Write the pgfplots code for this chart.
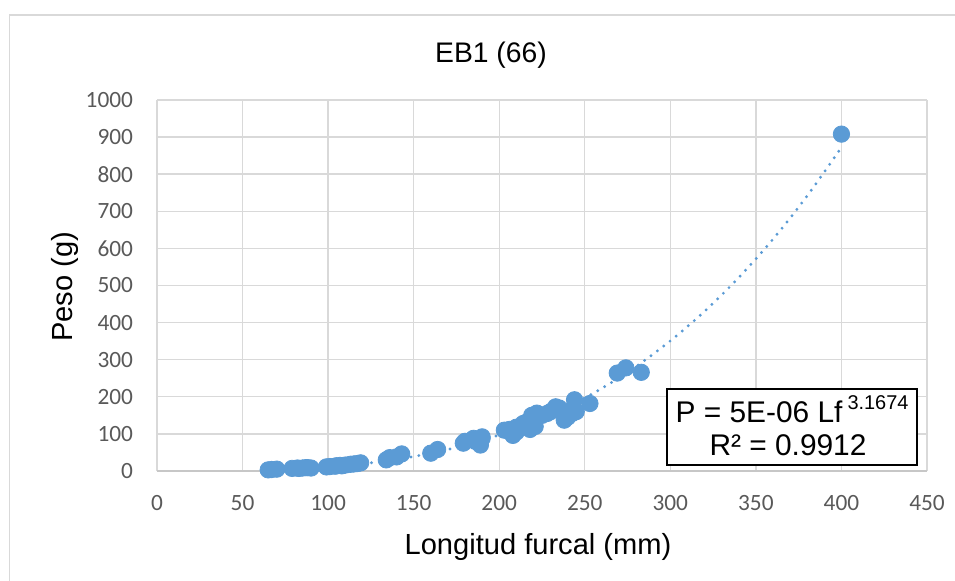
\documentclass[border=0pt]{standalone}
\usepackage{pgfplots}
\pgfplotsset{compat=1.18}
\usepackage{fontspec}
\setmainfont{Liberation Sans}
\newfontfamily\calibri{Carlito}
\definecolor{xlblue}{HTML}{5B9BD5}
\definecolor{xlgrid}{HTML}{D9D9D9}
\definecolor{xltick}{HTML}{595959}

\begin{document}
\begin{tikzpicture}
\path[use as bounding box] (0,0) rectangle (477.5bp,290.5bp);
\draw[xlgrid, line width=0.6bp] (4.75bp,0) -- (4.75bp,283bp) -- (477.5bp,283bp);
\begin{axis}[
  at={(78.5bp,55bp)}, anchor=south west,
  scale only axis,
  width=385bp, height=185.5bp,
  xmin=0, xmax=450, ymin=0, ymax=1000,
  xtick={0,50,...,450},
  ytick={0,100,...,1000},
  axis line style={draw=none},
  axis x line*=bottom,
  axis y line*=left,
  x axis line style={draw=xlgrid!80!gray, line width=0.7bp},
  major tick length=0pt,
  grid=major,
  grid style={xlgrid, line width=0.7bp},
  tick label style={font=\calibri\fontsize{11.7}{13}\selectfont, text=xltick},
  /pgf/number format/assume math mode=true,
  /pgf/number format/1000 sep={},
  yticklabel style={xshift=-8.5bp},
  xticklabel style={yshift=-8.5bp},
  clip=false
]
% trend line (power fit)
\addplot[xlblue, line width=1.6bp, dash pattern=on 0pt off 4pt, line cap=round, smooth]
  coordinates {(65,2.76) (80,5.33) (100,10.81) (120,19.26) (140,31.38) (160,47.9)
  (180,69.6) (200,97.1) (220,131.3) (240,173.0) (260,222.9) (280,281.9)
  (300,350.8) (320,430.3) (340,521.4) (360,624.9) (380,741.6) (400,872.5)};
% observations
\addplot[only marks, mark=*, mark size=4.1bp, mark options={fill=xlblue, draw=xlblue}]
  coordinates {
  (65,3) (67,4) (70,5) (79,7) (82,8) (83,7) (85,8) (87,9) (88,9) (90,8)
  (99,11) (101,12) (104,13) (105,14) (107,15) (108,14) (110,16) (113,18) (115,19) (117,20) (119,22)
  (134,30) (136,36) (140,38) (143,46) (160,48) (164,58)
  (179,75) (180,80) (185,88) (186,80) (189,70) (190,88) (190,92)
  (203,110) (206,112) (208,96) (210,105) (210,118) (212,115) (213,122) (214,128) (215,125) (216,132)
  (218,112) (219,150) (220,140) (221,120) (222,145) (222,156) (225,150) (228,155) (230,160)
  (233,173) (235,170) (238,137) (240,145) (243,156) (243,168) (244,192) (245,160) (253,182)
  (269,264) (274,278) (283,266) (400,908)};
\end{axis}
\node[font=\fontsize{14.2}{16}\selectfont] at (245.5bp,263bp) {EB1 (66)};
\node[font=\fontsize{14.6}{16}\selectfont, rotate=90] at (32.5bp,147bp) {Peso (g)};
\node[font=\fontsize{14.6}{16}\selectfont] at (269bp,17bp) {Longitud furcal (mm)};
\draw[black, fill=white, line width=0.6bp] (333.5bp,58bp) rectangle (458.5bp,96bp);
\node[font=\fontsize{15}{17}\selectfont] at (396bp,86bp) {P = 5E-06 Lf\,\raisebox{0.45em}{\fontsize{10}{12}\selectfont 3.1674}};
\node[font=\fontsize{15}{17}\selectfont] at (394bp,68bp) {R² = 0.9912};
\end{tikzpicture}
\end{document}
